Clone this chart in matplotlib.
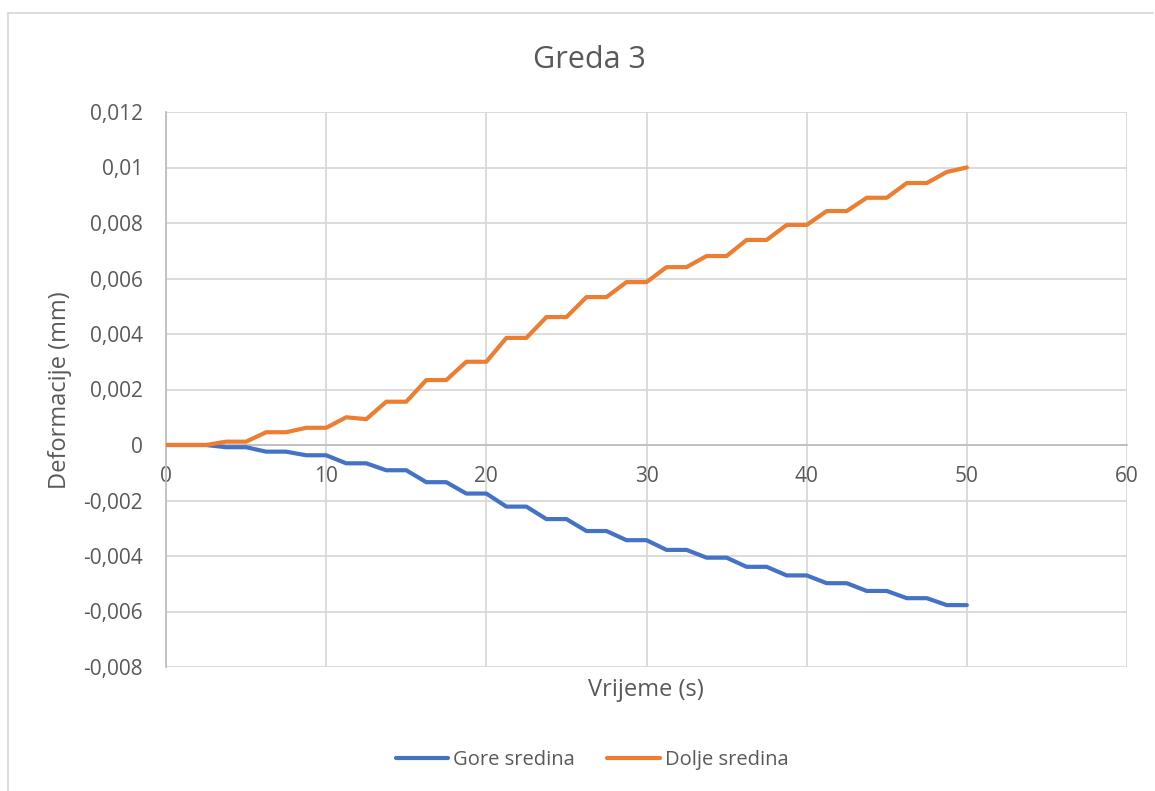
import matplotlib
matplotlib.use("Agg")
import matplotlib.pyplot as plt
from matplotlib.lines import Line2D
from matplotlib.ticker import FuncFormatter

# data (time in s, deformation in mm)
vrijeme = [0, 1.25, 2.5, 3.75, 5, 6.25, 7.5, 8.75, 10, 11.25, 12.5, 13.75, 15,
           16.25, 17.5, 18.75, 20, 21.25, 22.5, 23.75, 25, 26.25, 27.5, 28.75,
           30, 31.25, 32.5, 33.75, 35, 36.25, 37.5, 38.75, 40, 41.25, 42.5,
           43.75, 45, 46.25, 47.5, 48.75, 50]

gore_sredina = [0, 0, 0, -0.00008, -0.00008, -0.00024, -0.00024, -0.00037, -0.00037,
                -0.00066, -0.00066, -0.00091, -0.00091, -0.00134, -0.00134,
                -0.00175, -0.00175, -0.00222, -0.00222, -0.00267, -0.00267,
                -0.0031, -0.0031, -0.00343, -0.00343, -0.00378, -0.00378,
                -0.00406, -0.00406, -0.00439, -0.00439, -0.0047, -0.0047,
                -0.00498, -0.00498, -0.00526, -0.00526, -0.00552, -0.00552,
                -0.00577, -0.00577]

dolje_sredina = [0, 0, 0, 0.00012, 0.00012, 0.00046, 0.00046, 0.00062, 0.00062,
                 0.0010, 0.00093, 0.00156, 0.00156, 0.00234, 0.00234,
                 0.0030, 0.0030, 0.00386, 0.00386, 0.00461, 0.00461,
                 0.00533, 0.00533, 0.00587, 0.00587, 0.00641, 0.00641,
                 0.00681, 0.00681, 0.00739, 0.00739, 0.00793, 0.00793,
                 0.00843, 0.00843, 0.00891, 0.00891, 0.00944, 0.00944,
                 0.00984, 0.0100]

x_ticks = [0, 10, 20, 30, 40, 50, 60]
y_ticks = [-0.008, -0.006, -0.004, -0.002, 0, 0.002, 0.004, 0.006, 0.008, 0.01, 0.012]

txt = "#595959"
plt.rcParams["font.family"] = ["Open Sans", "DejaVu Sans"]

fig = plt.figure(figsize=(11.55, 7.91), dpi=100)
ax = fig.add_axes([166 / 1155, 1 - 667 / 791, (1127 - 166) / 1155, (667 - 112) / 791])

ax.plot(vrijeme, gore_sredina, color="#4472C4", lw=3.0, label="Gore sredina",
        solid_joinstyle="round", solid_capstyle="round", zorder=3)
ax.plot(vrijeme, dolje_sredina, color="#ED7D31", lw=3.0, label="Dolje sredina",
        solid_joinstyle="round", solid_capstyle="round", zorder=3)

ax.set_xlim(0, 60)
ax.set_ylim(-0.008, 0.012)
ax.set_xticks(x_ticks)
ax.set_yticks(y_ticks)
ax.grid(True, color="#d9d9d9", lw=1.3)
ax.set_axisbelow(True)

for s in ["top", "right"]:
    ax.spines[s].set_visible(False)
ax.spines["left"].set_color("#bfbfbf")
ax.spines["left"].set_linewidth(1.3)
ax.spines["bottom"].set_position(("data", 0))
ax.spines["bottom"].set_color("#bfbfbf")
ax.spines["bottom"].set_linewidth(1.3)

fmt = FuncFormatter(lambda v, p: "0" if abs(v) < 1e-12 else ("%g" % v).replace(".", ","))
ax.yaxis.set_major_formatter(fmt)
ax.tick_params(axis="both", length=0, labelsize=15, labelcolor=txt)
ax.tick_params(axis="y", pad=16.5)
ax.tick_params(axis="x", pad=15)

fig.text(589 / 1155, 1 - 60 / 791, "Greda 3", ha="center", va="center",
         fontsize=22, color=txt)
fig.text(646 / 1155, 1 - 690 / 791, "Vrijeme (s)", ha="center", va="center",
         fontsize=17, color=txt)
fig.text(60 / 1155, 1 - 390 / 791, "Deformacije (mm)", ha="center", va="center",
         rotation=90, fontsize=17, color=txt)

leg = fig.legend(loc="center", bbox_to_anchor=(592 / 1155, 1 - 760 / 791), ncol=2,
                 frameon=False, fontsize=14.5, handlelength=2.6, columnspacing=1.6,
                 handletextpad=0.25)
for t in leg.get_texts():
    t.set_color(txt)

# chart area border (left and top visible in the reference)
fig.add_artist(Line2D([8 / 1155, 8 / 1155], [0, 1 - 13 / 791], color="#d9d9d9", lw=1.3))
fig.add_artist(Line2D([8 / 1155, 1153 / 1155], [1 - 13 / 791, 1 - 13 / 791],
                      color="#d9d9d9", lw=1.3))

fig.savefig("out.png", dpi=100, facecolor="white")
